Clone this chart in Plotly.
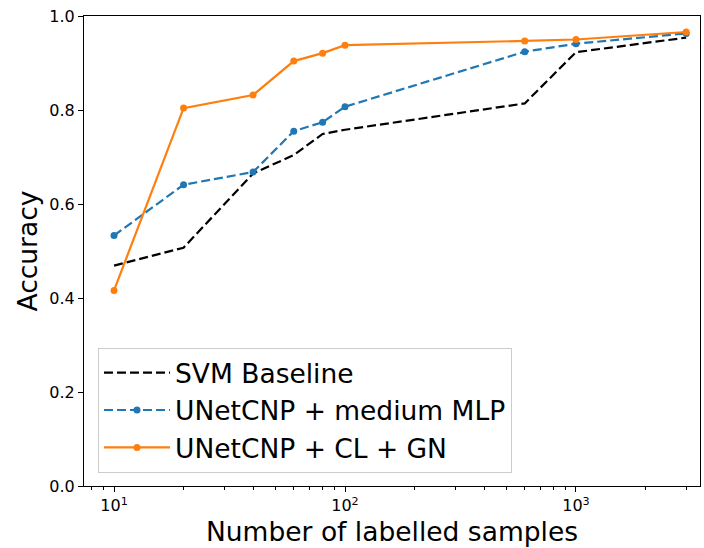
import plotly.graph_objects as go

samples = [10, 20, 40, 60, 80, 100, 600, 1000, 3000]
svm_baseline = [0.469, 0.507, 0.665, 0.704, 0.749, 0.758, 0.814, 0.923, 0.954]
unetcnp_mlp = [0.533, 0.641, 0.668, 0.755, 0.774, 0.807, 0.924, 0.941, 0.963]
unetcnp_cl_gn = [0.416, 0.804, 0.832, 0.904, 0.921, 0.938, 0.947, 0.950, 0.966]

names = ["SVM Baseline", "UNetCNP + medium MLP", "UNetCNP + CL + GN"]
x_tickvals = [10, 100, 1000]
x_ticktext = ["10<sup>1</sup>", "10<sup>2</sup>", "10<sup>3</sup>"]
x_minor_tickvals = [8, 9, 20, 30, 40, 50, 60, 70, 80, 90,
                    200, 300, 400, 500, 600, 700, 800, 900, 2000, 3000]
y_tickvals = [0.0, 0.2, 0.4, 0.6, 0.8, 1.0]

FONT = "DejaVu Sans"

fig = go.Figure()
fig.add_trace(go.Scatter(x=samples, y=svm_baseline, name=names[0], mode="lines",
                         line=dict(color="black", width=2.2, dash="9px,4px")))
fig.add_trace(go.Scatter(x=samples, y=unetcnp_mlp, name=names[1], mode="lines+markers",
                         line=dict(color="#1f77b4", width=2.2, dash="9px,4px"),
                         marker=dict(size=7, color="#1f77b4")))
fig.add_trace(go.Scatter(x=samples, y=unetcnp_cl_gn, name=names[2], mode="lines+markers",
                         line=dict(color="#ff7f0e", width=2.2),
                         marker=dict(size=7, color="#ff7f0e")))

axis_common = dict(showline=True, linecolor="black", linewidth=1.2, mirror=True,
                   ticks="outside", ticklen=5, tickwidth=1.2, tickcolor="black",
                   showgrid=False, zeroline=False,
                   tickfont=dict(family=FONT, size=16, color="black"))

fig.update_xaxes(type="log", range=[0.870, 3.537], tickvals=x_tickvals, ticktext=x_ticktext,
                 minor=dict(tickvals=x_minor_tickvals, ticks="outside", ticklen=3,
                            tickwidth=0.8, tickcolor="black", showgrid=False),
                 title=dict(text="Number of labelled samples",
                            font=dict(family=FONT, size=26.5, color="black"), standoff=8),
                 **axis_common)
fig.update_yaxes(range=[0, 1], tickvals=y_tickvals, tickformat=".1f",
                 title=dict(text="Accuracy", font=dict(family=FONT, size=26.5, color="black"),
                            standoff=3),
                 **axis_common)

fig.update_layout(
    width=704, height=548,
    margin=dict(l=84, r=4, t=16, b=62),
    plot_bgcolor="white", paper_bgcolor="white",
    font=dict(family=FONT, color="black"),
    legend=dict(x=0.0227, y=0.028, xanchor="left", yanchor="bottom",
                bgcolor="rgba(255,255,255,0.8)", bordercolor="#cccccc", borderwidth=1,
                font=dict(family=FONT, size=26.5, color="black"), itemwidth=66,
                tracegroupgap=0),
)

fig.write_html("out.html")
